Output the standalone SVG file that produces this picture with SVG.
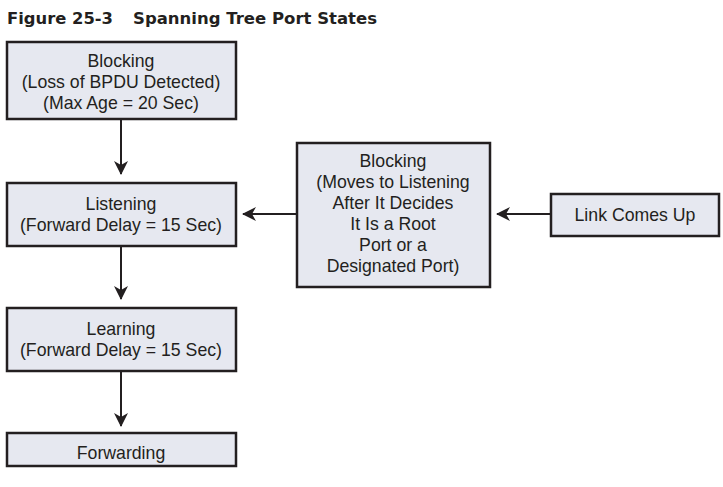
<svg xmlns="http://www.w3.org/2000/svg" width="723" height="487" viewBox="0 0 723 487">
<style>
.box{fill:#e6e8f0;stroke:#231f20;stroke-width:2.5}
.t{font-family:"Liberation Sans",Arial,sans-serif;font-size:17.7px;fill:#231f20;text-anchor:middle}
.title{font-family:"DejaVu Sans",sans-serif;font-size:15px;font-weight:bold;fill:#231f20}
.ln{stroke:#231f20;stroke-width:2;fill:none}
</style>
<defs>
<marker id="ah" markerWidth="14" markerHeight="14" viewBox="0 0 14 14" refX="13" refY="7" orient="auto" markerUnits="userSpaceOnUse">
<path d="M0,0 L14,7 L0,14 L4,7 Z" fill="#231f20"/>
</marker>
</defs>
<rect width="723" height="487" fill="#fff"/>
<text class="title" x="7" y="24" textLength="106" lengthAdjust="spacingAndGlyphs">Figure 25-3</text>
<text class="title" x="133" y="24" textLength="244" lengthAdjust="spacingAndGlyphs">Spanning Tree Port States</text>
<g id="connectors">
<line class="ln" x1="121" y1="119" x2="121" y2="174" marker-end="url(#ah)"/>
<line class="ln" x1="121" y1="246" x2="121" y2="299" marker-end="url(#ah)"/>
<line class="ln" x1="121" y1="371" x2="121" y2="426" marker-end="url(#ah)"/>
<line class="ln" x1="297" y1="214" x2="243" y2="214" marker-end="url(#ah)"/>
<line class="ln" x1="551" y1="214" x2="497" y2="214" marker-end="url(#ah)"/>
</g>
<g id="blocking1">
<rect class="box" x="7" y="42" width="229" height="77"/>
<text class="t" x="121" y="67">Blocking</text>
<text class="t" x="121" y="88">(Loss of BPDU Detected)</text>
<text class="t" x="121" y="109">(Max Age = 20 Sec)</text>
</g>
<g id="listening">
<rect class="box" x="7" y="183" width="229" height="63"/>
<text class="t" x="121" y="210">Listening</text>
<text class="t" x="121" y="231">(Forward Delay = 15 Sec)</text>
</g>
<g id="learning">
<rect class="box" x="7" y="308" width="229" height="63"/>
<text class="t" x="121" y="335">Learning</text>
<text class="t" x="121" y="356">(Forward Delay = 15 Sec)</text>
</g>
<g id="forwarding">
<rect class="box" x="7" y="433" width="229" height="33"/>
<text class="t" x="121" y="459">Forwarding</text>
</g>
<g id="blocking2">
<rect class="box" x="297" y="143" width="193" height="144"/>
<text class="t" x="393" y="167">Blocking</text>
<text class="t" x="393" y="188">(Moves to Listening</text>
<text class="t" x="393" y="209">After It Decides</text>
<text class="t" x="393" y="230">It Is a Root</text>
<text class="t" x="393" y="251">Port or a</text>
<text class="t" x="393" y="272">Designated Port)</text>
</g>
<g id="linkup">
<rect class="box" x="551" y="194" width="168" height="42"/>
<text class="t" x="635" y="221">Link Comes Up</text>
</g>
</svg>
